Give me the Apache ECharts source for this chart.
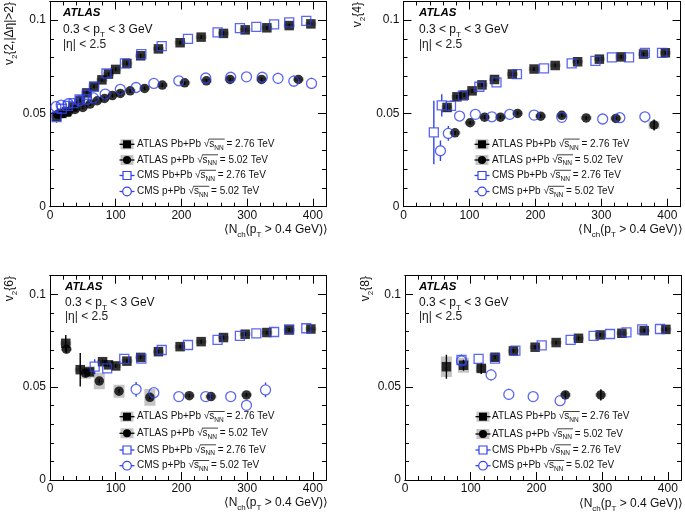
<!DOCTYPE html>
<html><head><meta charset="utf-8">
<script src="https://cdn.jsdelivr.net/npm/echarts@6/dist/echarts.min.js"></script>
<style>html,body{margin:0;padding:0;background:#fff}#c{width:685px;height:524px}</style>
</head><body><div id="c"></div>
<script>
// ---------------- DATA  [<Nch>, v2, statErr, sysErr] ----------------
const xTickLabels = ['0','100','200','300','400'];
const yTickLabels = ['0','0.05','0.1'];
const legendNames = ['ATLAS Pb+Pb ', 'ATLAS p+Pb ', 'CMS Pb+Pb ', 'CMS p+Pb '];
const legendEnergies = [' = 2.76 TeV', ' = 5.02 TeV', ' = 2.76 TeV', ' = 5.02 TeV'];
const yTitleInner = ['2,|Δη|>2', '4', '6', '8'];

// panel 1: v2{2,|Δη|>2}
const v22_atlasPbPb = [[10,0.0485,0.001,0.001],[18,0.0500,0.001,0.001],[25,0.0508,0.001,0.001],[35,0.0535,0.001,0.001],[46,0.0570,0.001,0.001],[56,0.0610,0.001,0.001],[67,0.0645,0.001,0.001],[79,0.0680,0.001,0.001],[89,0.0711,0.001,0.001],[100,0.0736,0.001,0.001],[117,0.0768,0.001,0.001],[138,0.0809,0.001,0.001],[165,0.0846,0.001,0.001],[198,0.0879,0.001,0.001],[230,0.0909,0.001,0.001],[264,0.0929,0.001,0.001],[297,0.0948,0.001,0.001],[330,0.0959,0.001,0.001],[364,0.0971,0.001,0.001],[397,0.0980,0.001,0.001]];
const v22_atlasPPb = [[12,0.0495,0.001,0.001],[20,0.0500,0.001,0.001],[28,0.0508,0.001,0.001],[38,0.0521,0.001,0.001],[50,0.0532,0.001,0.001],[61,0.0550,0.001,0.001],[72,0.0568,0.001,0.001],[83,0.0580,0.001,0.001],[95,0.0596,0.001,0.001],[107,0.0607,0.001,0.001],[122,0.0621,0.001,0.001],[144,0.0634,0.001,0.001],[171,0.0652,0.001,0.001],[205,0.0664,0.001,0.001],[238,0.0675,0.001,0.001],[274,0.0682,0.001,0.001],[322,0.0682,0.001,0.001],[378,0.0682,0.001,0.001]];
const v22_cmsPbPb = [[10,0.0480,0.003],[18,0.0525,0.001],[27,0.0540,0.001],[36,0.0555,0.001],[45,0.0575,0.001],[56,0.0600,0.001],[67,0.0643,0.001],[86,0.0714,0.001],[114,0.0768,0.001],[139,0.0818,0.001],[170,0.0861,0.001],[210,0.0900,0.001],[255,0.0934,0.001],[289,0.0957,0.001],[314,0.0964,0.001],[341,0.0977,0.001],[364,0.0988,0.001],[390,0.0996,0.001]];
const v22_cmsPPb = [[9,0.0536,0.001],[17,0.0545,0.001],[28,0.0552,0.001],[45,0.0568,0.001],[56,0.0575,0.001],[66,0.0583,0.001],[84,0.0604,0.001],[107,0.0629,0.001],[131,0.0639,0.001],[158,0.0661,0.001],[196,0.0675,0.001],[237,0.0690,0.0015],[275,0.0694,0.002],[299,0.0696,0.0025],[323,0.0694,0.0025],[347,0.0688,0.003],[371,0.0673,0.003],[398,0.0661,0.003]];

// panel 2: v2{4}
const v24_atlasPbPb = [[66,0.0532,0.002,0.001],[81,0.0589,0.001,0.001],[92,0.0598,0.001,0.001],[104,0.0621,0.001,0.001],[119,0.0653,0.001,0.001],[138,0.0682,0.001,0.001],[165,0.0711,0.001,0.001],[198,0.0738,0.001,0.001],[230,0.0757,0.001,0.001],[264,0.0777,0.001,0.001],[297,0.0791,0.001,0.001],[330,0.0803,0.001,0.001],[364,0.0818,0.001,0.001],[397,0.0825,0.001,0.001]];
const v24_atlasPPb = [[78,0.0396,0.001,0.001],[101,0.0450,0.001,0.001],[123,0.0480,0.001,0.001],[147,0.0480,0.001,0.001],[173,0.0500,0.001,0.001],[208,0.0485,0.001,0.001],[240,0.0490,0.001,0.001],[277,0.0476,0.001,0.001],[322,0.0473,0.001,0.001],[380,0.0438,0.003,0.002]];
const v24_cmsPbPb = [[46,0.0398,0.017],[58,0.0543,0.006],[72,0.0540,0.003],[90,0.0595,0.002],[115,0.0643,0.002],[141,0.0666,0.002],[172,0.0711,0.001],[213,0.0741,0.001],[255,0.0768,0.001],[291,0.0782,0.001],[316,0.0800,0.001],[342,0.0800,0.001],[366,0.0825,0.001],[392,0.0825,0.001]];
const v24_cmsPPb = [[56,0.0300,0.0055],[68,0.0393,0.004],[85,0.0486,0.002],[109,0.0495,0.002],[134,0.0482,0.001],[161,0.0495,0.001],[198,0.0491,0.001],[240,0.0479,0.001],[302,0.0470,0.0015],[328,0.0477,0.002],[366,0.0482,0.003]];

// panel 3: v2{6}
const v26_atlasPbPb = [[24,0.0736,0.0045,0.001],[46,0.0594,0.009,0.001],[60,0.0582,0.002,0.003],[80,0.0637,0.001,0.001],[89,0.0620,0.001,0.001],[100,0.0614,0.001,0.001],[117,0.0640,0.001,0.001],[138,0.0660,0.001,0.001],[165,0.0691,0.001,0.001],[198,0.0718,0.001,0.001],[230,0.0745,0.001,0.001],[264,0.0767,0.001,0.001],[297,0.0785,0.001,0.001],[330,0.0794,0.001,0.001],[364,0.0808,0.001,0.001],[397,0.0813,0.001,0.001]];
const v26_atlasPPb = [[25,0.0704,0.002,0.001],[54,0.0575,0.002,0.003],[75,0.0533,0.001,0.0045],[105,0.0478,0.001,0.0035],[152,0.0445,0.001,0.0045],[212,0.0454,0.001,0.001],[245,0.0449,0.001,0.001],[299,0.0458,0.001,0.001]];
const v26_cmsPbPb = [[68,0.0610,0.004],[87,0.0601,0.002],[113,0.0652,0.001],[139,0.0653,0.001],[170,0.0700,0.001],[210,0.0727,0.001],[255,0.0754,0.001],[289,0.0776,0.001],[314,0.0790,0.001],[341,0.0797,0.001],[364,0.0811,0.001],[390,0.0817,0.001]];
const v26_cmsPPb = [[131,0.0488,0.004],[158,0.0470,0.002],[196,0.0449,0.001],[237,0.0449,0.001],[275,0.0449,0.001],[299,0.0402,0.002],[328,0.0485,0.004]];

// panel 4: v2{8}
const v28_atlasPbPb = [[63,0.0610,0.0065,0.0055],[89,0.0618,0.003,0.004],[116,0.0601,0.003,0.002],[137,0.0661,0.001,0.002],[165,0.0695,0.001,0.001],[198,0.0715,0.001,0.001],[230,0.0740,0.001,0.001],[264,0.0763,0.001,0.001],[297,0.0781,0.001,0.001],[330,0.0790,0.001,0.001],[364,0.0804,0.001,0.001],[397,0.0811,0.001,0.001]];
const v28_atlasPPb = [[244,0.0458,0.002,0.001],[298,0.0458,0.003,0.001]];
const v28_cmsPbPb = [[86,0.0646,0.003],[112,0.0652,0.001],[137,0.0653,0.001],[168,0.0697,0.001],[208,0.0725,0.001],[252,0.0754,0.001],[287,0.0776,0.001],[312,0.0786,0.001],[337,0.0795,0.001],[361,0.0811,0.001],[388,0.0813,0.001]];
const v28_cmsPPb = [[86,0.0641,0.003],[131,0.0566,0.003],[158,0.0461,0.003],[195,0.0449,0.002],[236,0.0427,0.002]];

// ---------------- LAYOUT / STYLE ----------------
const FONT = '"Liberation Sans", Arial, Helvetica, sans-serif';
const BLUE = '#3142ee';
const BLACK = '#000';
const GREY = '#c4c4c4';
const XMAX = 420, YMAX = 0.11;

const panels = [
  {grid:{left:50, top:1.5, width:276, height:205.2}, sets:[v22_atlasPbPb, v22_atlasPPb, v22_cmsPbPb, v22_cmsPPb],
   yTitle:{x:10, y:2}, xTitleY:230, txtX:63, txtY:[7, 23, 39], leg:{mx:127, tx:137, rows:[144.3,160,175.5,191.5]}},
  {grid:{left:403.5, top:1.5, width:277, height:205.2}, sets:[v24_atlasPbPb, v24_atlasPPb, v24_cmsPbPb, v24_cmsPPb],
   yTitle:{x:358, y:2}, xTitleY:230, txtX:419, txtY:[7, 23, 39], leg:{mx:482, tx:492, rows:[144.3,160,175.5,191.5]}},
  {grid:{left:50, top:275.7, width:276, height:204.3}, sets:[v26_atlasPbPb, v26_atlasPPb, v26_cmsPbPb, v26_cmsPPb],
   yTitle:{x:10, y:276}, xTitleY:503, txtX:65, txtY:[281, 296, 311], leg:{mx:127, tx:137, rows:[416.7,433.3,450,465.7]}},
  {grid:{left:405, top:275.7, width:276, height:204.3}, sets:[v28_atlasPbPb, v28_atlasPPb, v28_cmsPbPb, v28_cmsPPb],
   yTitle:{x:366, y:276}, xTitleY:504, txtX:419, txtY:[281, 296, 311], leg:{mx:483, tx:492, rows:[416.7,434,450,465.7]}}
];

const markerStyles = [
  {symbol:'rect',   size:9.5, itemStyle:{color:BLACK}, errColor:BLACK, gap:0},
  {symbol:'circle', size:9.5, itemStyle:{color:BLACK}, errColor:BLACK, gap:0},
  {symbol:'rect',   size:9,   itemStyle:{color:'rgba(0,0,0,0)', borderColor:BLUE, borderWidth:1.3}, errColor:BLUE, gap:4.7},
  {symbol:'circle', size:10,  itemStyle:{color:'rgba(0,0,0,0)', borderColor:BLUE, borderWidth:1.3}, errColor:BLUE, gap:5.2}
];

function errRender(color, gap){
  return function(params, api){
    const x = api.value(0), y = api.value(1), e = api.value(2);
    const c = api.coord([x, y]);
    const t = api.coord([x, y + e])[1], b = api.coord([x, y - e])[1];
    const ch = [];
    if (c[1] - gap > t) ch.push({type:'line', shape:{x1:c[0], y1:t, x2:c[0], y2:c[1]-gap}, style:{stroke:color, lineWidth:1.4}});
    if (b > c[1] + gap) ch.push({type:'line', shape:{x1:c[0], y1:c[1]+gap, x2:c[0], y2:b}, style:{stroke:color, lineWidth:1.4}});
    return {type:'group', children:ch};
  };
}
function sysRender(params, api){
  const x = api.value(0), y = api.value(1), s = api.value(3);
  const c = api.coord([x, y]);
  const t = api.coord([x, y + s])[1], b = api.coord([x, y - s])[1];
  return {type:'rect', shape:{x:c[0]-5.5, y:t, width:11, height:b-t}, style:{fill:GREY}};
}

const xAxes = [], yAxes = [], grids = [], series = [], graphics = [];
const axisLineStyle = {show:true, onZero:false, lineStyle:{color:BLACK, width:1}};
const mctx = document.createElement('canvas').getContext('2d');
const tw = (t, s) => { mctx.font = s + 'px ' + FONT; return mctx.measureText(t).width; };

panels.forEach((p, g) => {
  grids.push(Object.assign({containLabel:false}, p.grid));
  const xb = (pos, major) => ({
    type:'value', gridIndex:g, position:pos, min:0, max:XMAX, interval: major ? 100 : 20,
    axisLine:axisLineStyle, splitLine:{show:false},
    axisTick:{show:true, inside:true, length: major ? 8 : 4, lineStyle:{color:BLACK, width:1}},
    axisLabel:{show: major && pos==='bottom', showMaxLabel:false, margin:3, fontSize:12, fontFamily:FONT, color:'#111',
      formatter: v => { const i = Math.round(v/100); return (Math.abs(v - i*100) < 1e-6 && xTickLabels[i] !== undefined) ? xTickLabels[i] : ''; }}
  });
  const yb = (pos, major) => ({
    type:'value', gridIndex:g, position:pos, min:0, max:YMAX, interval: major ? 0.05 : 0.01,
    axisLine:axisLineStyle, splitLine:{show:false},
    axisTick:{show:true, inside:true, length: major ? 8 : 4, lineStyle:{color:BLACK, width:1}},
    axisLabel:{show: major && pos==='left', showMaxLabel:false, margin:4, fontSize:12, fontFamily:FONT, color:'#111',
      formatter: v => { const i = Math.round(v/0.05); return (Math.abs(v - i*0.05) < 1e-6 && yTickLabels[i] !== undefined) ? yTickLabels[i] : ''; }}
  });
  xAxes.push(xb('bottom', true), xb('bottom', false), xb('top', true), xb('top', false));
  yAxes.push(yb('left', true), yb('left', false), yb('right', true), yb('right', false));
  const xi = 4*g, yi = 4*g;
  // ATLAS systematic boxes
  [0,1].forEach(k => series.push({type:'custom', xAxisIndex:xi, yAxisIndex:yi, data:p.sets[k], encode:{x:0,y:1},
    renderItem:sysRender, clip:true, silent:true, animation:false}));
  [0,1,2,3].forEach(k => {
    const ms = markerStyles[k];
    series.push({type:'custom', xAxisIndex:xi, yAxisIndex:yi, data:p.sets[k], encode:{x:0,y:1},
      renderItem:errRender(ms.errColor, ms.gap), clip:true, silent:true, animation:false});
    series.push({type:'scatter', xAxisIndex:xi, yAxisIndex:yi, data:p.sets[k].map(d => [d[0], d[1]]),
      symbol:ms.symbol, symbolSize:ms.size, itemStyle:ms.itemStyle, silent:true, animation:false, clip:true,
      emphasis:{disabled:true}});
  });

  const richN = {fontSize:12, fontFamily:FONT, fill:'#111', lineHeight:14};
  const richSub = {fontSize:8, fontFamily:FONT, fill:'#111', lineHeight:14, padding:[9,0,0,0]};
  // y title (rotated)
  graphics.push({type:'text', x:p.yTitle.x, y:p.yTitle.y, rotation:Math.PI/2, silent:true,
    style:{text:'{n|v}{sub|2}{n|{' + yTitleInner[g] + '}}', fontSize:12, fontFamily:FONT, fill:'#111', lineHeight:14,
      align:'right', verticalAlign:'middle', rich:{n:richN, sub:richSub}}});
  // x title
  graphics.push({type:'text', x:p.grid.left + p.grid.width + 2, y:p.xTitleY, silent:true,
    style:{text:'{n|⟨N}{sub|ch}{n|(p}{sub|T}{n| > 0.4 GeV)⟩}', fontSize:12, fontFamily:FONT, fill:'#111', lineHeight:14,
      align:'right', verticalAlign:'middle', rich:{n:richN, sub:richSub}}});
  // ATLAS label and cuts
  graphics.push({type:'text', x:p.txtX, y:p.txtY[0], silent:true,
    style:{text:'ATLAS', fontSize:11.5, fontWeight:'bold', fontStyle:'italic', fontFamily:FONT, fill:'#000', align:'left', verticalAlign:'top'}});
  graphics.push({type:'text', x:p.txtX, y:p.txtY[1], silent:true,
    style:{text:'{n|0.3 < p}{sub|T}{n| < 3 GeV}', fontSize:12, fontFamily:FONT, fill:'#222', lineHeight:14, align:'left', verticalAlign:'top',
      rich:{n:richN, sub:richSub}}});
  graphics.push({type:'text', x:p.txtX, y:p.txtY[2], silent:true,
    style:{text:'|η| < 2.5', fontSize:12, fontFamily:FONT, fill:'#222', align:'left', verticalAlign:'top'}});

  // legend
  const L = p.leg;
  legendNames.forEach((name, k) => {
    const ry = L.rows[k], ms = markerStyles[k];
    if (k < 2) graphics.push({type:'rect', silent:true, shape:{x:L.mx-6.5, y:ry-5, width:13, height:10}, style:{fill:GREY}});
    graphics.push({type:'line', silent:true, shape:{x1:L.mx-7.5, y1:ry, x2:L.mx+7.5, y2:ry}, style:{stroke:ms.errColor, lineWidth:1.3}});
    if (k === 0) graphics.push({type:'rect', silent:true, shape:{x:L.mx-4, y:ry-4, width:8, height:8}, style:{fill:BLACK}});
    if (k === 1) graphics.push({type:'circle', silent:true, shape:{cx:L.mx, cy:ry, r:4}, style:{fill:BLACK}});
    if (k === 2) graphics.push({type:'rect', silent:true, shape:{x:L.mx-4, y:ry-4, width:8, height:8}, style:{fill:'#fff', stroke:BLUE, lineWidth:1.2}});
    if (k === 3) graphics.push({type:'circle', silent:true, shape:{cx:L.mx, cy:ry, r:4.3}, style:{fill:'#fff', stroke:BLUE, lineWidth:1.2}});
    graphics.push({type:'text', silent:true, x:L.tx, y:ry, style:{
      text:'{n|' + name + '√s}{sub|NN}{n|' + legendEnergies[k] + '}', fontSize:10, fontFamily:FONT, fill:'#111', lineHeight:12,
      align:'left', verticalAlign:'middle',
      rich:{n:{fontSize:10, fontFamily:FONT, fill:'#111', lineHeight:12}, sub:{fontSize:6.5, fontFamily:FONT, fill:'#111', lineHeight:12, padding:[7,0,0,0]}}}});
    const x0 = L.tx + tw(name, 10) + tw('√', 10) - 0.5;
    const x1 = x0 + tw('s', 10) + tw('NN', 6.5) + 1.5;
    graphics.push({type:'line', silent:true, shape:{x1:x0, y1:ry-5.2, x2:x1, y2:ry-5.2}, style:{stroke:'#111', lineWidth:0.8}});
  });
});

const chart = echarts.init(document.getElementById('c'), null, {renderer:'canvas'});
chart.setOption({backgroundColor:'#fff', animation:false, grid:grids, xAxis:xAxes, yAxis:yAxes, series:series, graphic:{elements:graphics}});
</script></body></html>
